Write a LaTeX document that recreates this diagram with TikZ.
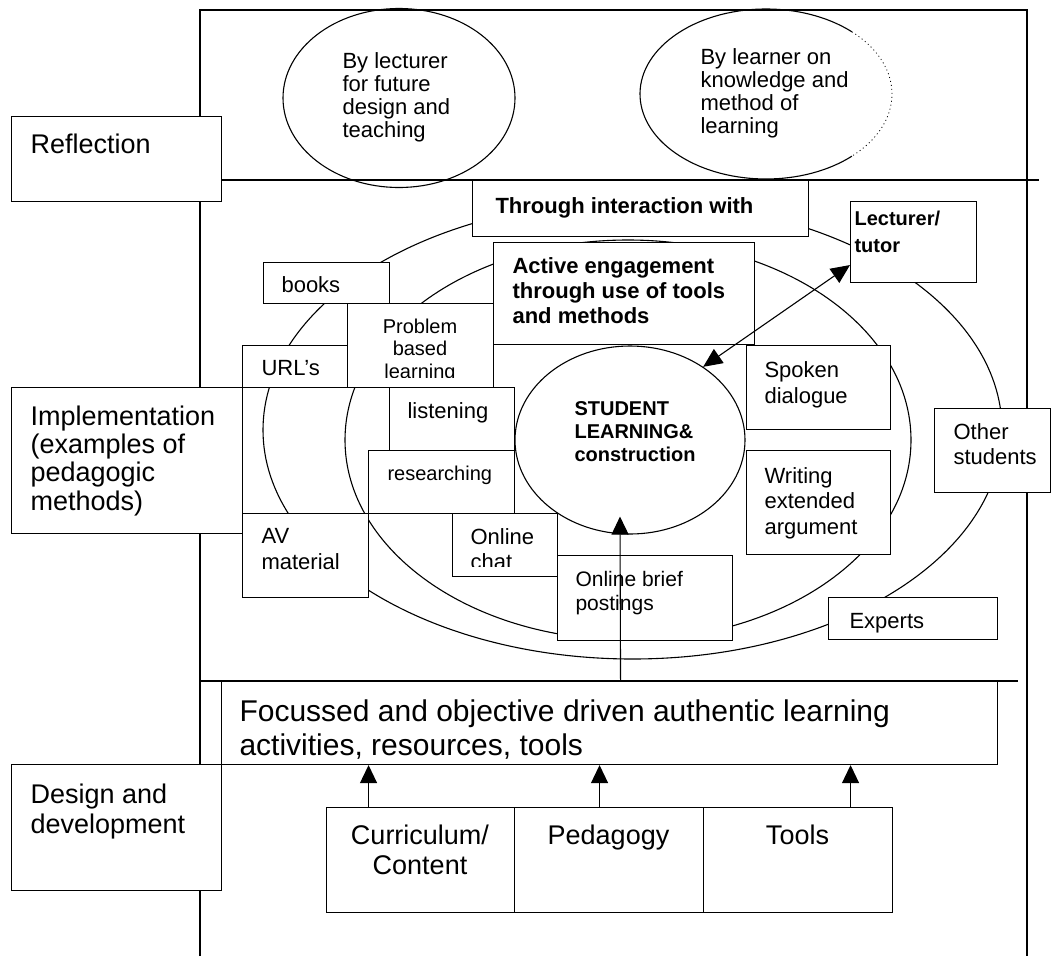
\documentclass[tikz,border=0pt]{standalone}
\usepackage{fontspec}
\setmainfont{Liberation Sans}
\usetikzlibrary{shapes.geometric, arrows.meta}

\begin{document}
\begin{tikzpicture}[x=1pt, y=-1pt, line width=1.1pt,
    panel/.style={draw, fill=white, anchor=north west, inner sep=0pt},
    oval/.style={ellipse, inner sep=0pt},
    txt/.style={anchor=north west, inner sep=0pt, align=left, font=\fontsize{22}{25}\selectfont},
    ctxt/.style={anchor=north, inner sep=0pt, align=center, font=\fontsize{27}{30}\selectfont},
    big/.style={font=\fontsize{27}{30}\selectfont},
    small/.style={font=\fontsize{20}{22.5}\selectfont},
    bold/.style={font=\bfseries\fontsize{22}{25}\selectfont},
    tip/.style={-{Triangle[length=18pt, width=17pt]}}]
    \useasboundingbox (0,0) rectangle (1052,956);

    \draw (200,956) -- (200,10) -- (1027,10) -- (1027,956);
    \draw (200,180) -- (1039,180);
    \draw (200,681) -- (1018,681);

    \node[oval, draw, minimum width=232, minimum height=179] (bylecturer) at (399,98) {};
    \node[oval, minimum width=252, minimum height=170] (bylearner) at (766,94) {};
    \draw (bylearner.center) ++(47:126pt and 85pt)
        arc[start angle=47, end angle=313, x radius=126pt, y radius=85pt];
    \draw[line width=0.8pt, dash pattern=on 1pt off 3pt] (bylearner.center) ++(47:126pt and 85pt)
        arc[start angle=47, end angle=-47, x radius=126pt, y radius=85pt];
    \node[txt, font=\fontsize{22}{23}\selectfont] (bylecturertxt) at (342,52) {By lecturer\\for future\\design and\\teaching};
    \node[txt, font=\fontsize{22}{23}\selectfont] (bylearnertxt) at (700,48) {By learner on\\knowledge and\\method of\\learning};

    \draw (632.5,430) ellipse [x radius=369.5pt, y radius=229pt];
    \draw (628,440) ellipse [x radius=283pt, y radius=200pt];
    \node[oval, draw, minimum width=230, minimum height=188] (student) at (630,440) {};
    \node[txt, font=\bfseries\fontsize{20}{23}\selectfont] (studenttxt) at (574,401) {STUDENT\\LEARNING\&\\construction};

    \node[panel, minimum width=210, minimum height=85] (reflection) at (11,116) {};
    \node[panel, minimum width=231, minimum height=146] (implementation) at (11,387) {};
    \node[panel, minimum width=210, minimum height=126] (design) at (11,764) {};
    \node[txt, big] (reflectiontxt) at (30,133) {Reflection};
    \node[txt, font=\fontsize{27}{28.3}\selectfont] (implementationtxt) at (30,405) {Implementation\\(examples of\\pedagogic\\methods)};
    \node[txt, big] (designtxt) at (30,783) {Design and\\development};

    \node[panel, minimum width=336, minimum height=56] (through) at (472,180) {};
    \node[txt, bold] (throughtxt) at (495,197.5) {Through interaction with};
    \node[panel, minimum width=126, minimum height=81] (lecturer) at (850,201) {};
    \node[txt, font=\bfseries\fontsize{20}{27}\selectfont] (lecturertxt) at (854,210.5) {Lecturer/\\tutor};
    \node[panel, minimum width=261, minimum height=102] (active) at (493,242) {};
    \node[txt, bold] (activetxt) at (512,257) {Active engagement\\through use of tools\\and methods};

    \node[panel, minimum width=126, minimum height=41] (books) at (263,262) {};
    \node[txt] (bookstxt) at (281,276.5) {books};
    \node[panel, minimum width=146, minimum height=84] (problem) at (347,303) {};
    \begin{scope}
        \clip (347,303) rectangle (493,377);
        \node[ctxt, small] (problemtxt) at (420,318) {Problem\\based\\learning};
    \end{scope}
    \node[panel, minimum width=105, minimum height=42] (urls) at (242,345) {};
    \node[txt] (urlstxt) at (261,360) {URL's};
    \node[panel, minimum width=125, minimum height=63] (listening) at (389,387) {};
    \node[txt] (listeningtxt) at (407,402) {listening};
    \node[panel, minimum width=146, minimum height=63] (researching) at (368,450) {};
    \node[txt, small] (researchingtxt) at (387,465) {researching};
    \node[panel, minimum width=126, minimum height=84] (av) at (242,513) {};
    \node[txt, font=\fontsize{22}{26}\selectfont] (avtxt) at (261,528) {AV\\material};
    \node[panel, minimum width=105, minimum height=63] (chat) at (452,513) {};
    \begin{scope}
        \clip (452,513) rectangle (557,566);
        \node[txt, font=\fontsize{22}{24.5}\selectfont] (chattxt) at (470,528) {Online\\chat};
    \end{scope}
    \node[panel, minimum width=175, minimum height=85] (postings) at (557,555) {};
    \node[txt, font=\fontsize{21}{24}\selectfont] (postingstxt) at (575,571) {Online brief\\postings};

    \node[panel, minimum width=144, minimum height=84] (spoken) at (746,345) {};
    \node[txt, font=\fontsize{22}{25.7}\selectfont] (spokentxt) at (764,361) {Spoken\\dialogue};
    \node[panel, minimum width=144, minimum height=104] (writing) at (746,450) {};
    \node[txt, font=\fontsize{22}{25.5}\selectfont] (writingtxt) at (764,467) {Writing\\extended\\argument};
    \node[panel, minimum width=116, minimum height=84] (others) at (934,408) {};
    \node[txt] (otherstxt) at (953,423) {Other\\students};
    \node[panel, minimum width=169, minimum height=42] (experts) at (828,597) {};
    \node[txt] (expertstxt) at (849,613) {Experts};

    \node[panel, minimum width=776, minimum height=83] (focus) at (221,681) {};
    \node[txt, font=\fontsize{30}{34}\selectfont] (focustxt) at (239,699) {Focussed and objective driven authentic learning\\activities, resources, tools};

    \node[panel, minimum width=188, minimum height=105] (curriculum) at (326,807) {};
    \node[panel, minimum width=189, minimum height=105] (pedagogy) at (514,807) {};
    \node[panel, minimum width=189, minimum height=105] (tools) at (703,807) {};
    \node[ctxt] (curriculumtxt) at (420,824) {Curriculum/\\Content};
    \node[ctxt] (pedagogytxt) at (608.5,824) {Pedagogy};
    \node[ctxt] (toolstxt) at (797.5,824) {Tools};

    \draw[{Triangle[length=19pt, width=17pt]}-{Triangle[length=19pt, width=17pt]}] ([yshift=-23pt]lecturer.west) -- (student.45);
    \draw[tip] ([xshift=11pt]focus.north) -- ([xshift=-10pt, yshift=18pt]student.south);
    \draw[tip] ([xshift=-52pt]curriculum.north) -- ([xshift=-52pt]curriculum.north |- focus.south);
    \draw[tip] ([xshift=-9.5pt]pedagogy.north) -- ([xshift=-9.5pt]pedagogy.north |- focus.south);
    \draw[tip] ([xshift=52.5pt]tools.north) -- ([xshift=52.5pt]tools.north |- focus.south);
\end{tikzpicture}
\end{document}
